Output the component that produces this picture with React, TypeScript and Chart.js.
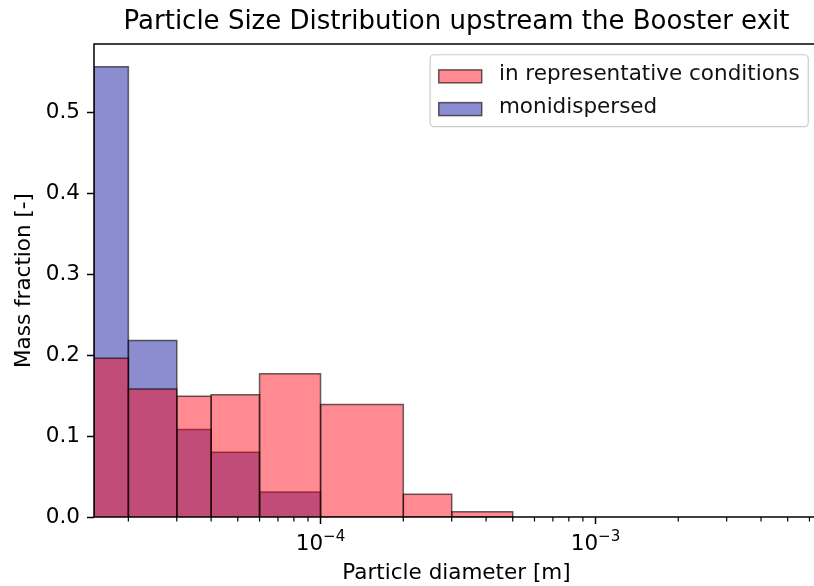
import { useEffect, useRef } from 'react';
import { Chart, registerables } from 'chart.js';

Chart.register(...registerables);

// ---- data ----
const BIN_EDGES = [1.5e-5, 2e-5, 3e-5, 4e-5, 6e-5, 1e-4, 2e-4, 3e-4, 5e-4];
const REPRESENTATIVE = [0.196, 0.158, 0.149, 0.151, 0.177, 0.139, 0.028, 0.0065];
const MONODISPERSED = [0.556, 0.218, 0.108, 0.08, 0.031, 0, 0, 0];
const SERIES_LABELS = ['in representative conditions', 'monidispersed'];

const X_MIN = 1.5e-5;
const X_MAX = 6.5e-3;
const Y_MIN = 0;
const Y_MAX = 0.584;

const X_MAJOR_TICKS = [1e-4, 1e-3];
const X_TICK_BASE = ['10', '10'];
const X_TICK_EXP = ['\u22124', '\u22123'];
const X_MINOR_TICKS = [
  2e-5, 3e-5, 4e-5, 5e-5, 6e-5, 7e-5, 8e-5, 9e-5,
  2e-4, 3e-4, 4e-4, 5e-4, 6e-4, 7e-4, 8e-4, 9e-4,
  2e-3, 3e-3, 4e-3, 5e-3, 6e-3,
];
const Y_TICKS = [0, 0.1, 0.2, 0.3, 0.4, 0.5];
const Y_TICK_LABELS = ['0.0', '0.1', '0.2', '0.3', '0.4', '0.5'];

const TITLE = 'Particle Size Distribution upstream the Booster exit';
const X_TITLE = 'Particle diameter [m]';
const Y_TITLE = 'Mass fraction [-]';

// ---- styles ----
const FONT = 'DejaVu Sans';
const FS = 21.5;
const RED_FILL = 'rgba(255,0,15,0.46)';
const BLUE_FILL = 'rgba(0,0,150,0.45)';
const EDGE = 'rgba(0,0,0,0.6)';

function barDatasets(values: number[], fill: string, order: number, label: string) {
  return values.map((v, i) => ({
    label,
    data: [
      { x: BIN_EDGES[i], y: 0 },
      { x: BIN_EDGES[i], y: v },
      { x: BIN_EDGES[i + 1], y: v },
      { x: BIN_EDGES[i + 1], y: 0 },
    ],
    backgroundColor: fill,
    borderColor: EDGE,
    borderWidth: 1.5,
    borderJoinStyle: 'miter' as const,
    fill: 'origin',
    pointRadius: 0,
    pointHoverRadius: 0,
    tension: 0,
    order,
  }));
}

const decorPlugin = {
  id: 'decor',
  afterDraw(chart: any) {
    const { ctx, chartArea: ca } = chart;
    const xs = chart.scales.x;
    ctx.save();
    // minor ticks
    ctx.strokeStyle = '#000';
    ctx.lineWidth = 1.2;
    X_MINOR_TICKS.forEach((v) => {
      if (v <= X_MIN || v >= X_MAX) return;
      const x = xs.getPixelForValue(v);
      ctx.beginPath();
      ctx.moveTo(x, ca.bottom);
      ctx.lineTo(x, ca.bottom + 4.5);
      ctx.stroke();
    });
    // major x tick labels with superscript
    ctx.fillStyle = '#000';
    ctx.textBaseline = 'alphabetic';
    ctx.textAlign = 'left';
    X_MAJOR_TICKS.forEach((v, i) => {
      const x = xs.getPixelForValue(v);
      ctx.font = `${FS}px "${FONT}"`;
      const wb = ctx.measureText(X_TICK_BASE[i]).width;
      ctx.font = `${FS * 0.7}px "${FONT}"`;
      const we = ctx.measureText(X_TICK_EXP[i]).width;
      const start = x - (wb + we) / 2;
      ctx.font = `${FS}px "${FONT}"`;
      ctx.fillText(X_TICK_BASE[i], start, ca.bottom + 33);
      ctx.font = `${FS * 0.7}px "${FONT}"`;
      ctx.fillText(X_TICK_EXP[i], start + wb, ca.bottom + 23.5);
    });
    // frame
    ctx.strokeStyle = '#000';
    ctx.lineWidth = 1.5;
    ctx.strokeRect(ca.left, ca.top, ca.right - ca.left, ca.bottom - ca.top);

    // legend
    const f = FS;
    ctx.font = `${f}px "${FONT}"`;
    const textW = Math.max(...SERIES_LABELS.map((s) => ctx.measureText(s).width));
    const pad = 0.4 * f;
    const handleL = 2 * f;
    const handleGap = 0.8 * f;
    const rowH = 22;
    const spacing = 0.5 * f;
    const boxR = ca.right - 0.5 * f;
    const boxT = ca.top + 0.5 * f;
    const boxW = pad + handleL + handleGap + textW + pad;
    const boxH = pad * 2 + rowH * 2 + spacing;
    const boxL = boxR - boxW;
    ctx.beginPath();
    if (ctx.roundRect) ctx.roundRect(boxL, boxT, boxW, boxH, 4);
    else ctx.rect(boxL, boxT, boxW, boxH);
    ctx.fillStyle = 'rgba(255,255,255,0.8)';
    ctx.fill();
    ctx.strokeStyle = '#cccccc';
    ctx.lineWidth = 1.2;
    ctx.stroke();
    const fills = [RED_FILL, BLUE_FILL];
    SERIES_LABELS.forEach((s, i) => {
      const cy = boxT + pad + rowH / 2 + i * (rowH + spacing);
      const ph = 13;
      ctx.fillStyle = fills[i];
      ctx.fillRect(boxL + pad, cy - ph / 2 + 2, handleL, ph);
      ctx.strokeStyle = EDGE;
      ctx.lineWidth = 1.5;
      ctx.strokeRect(boxL + pad, cy - ph / 2 + 2, handleL, ph);
      ctx.fillStyle = '#111';
      ctx.textBaseline = 'middle';
      ctx.textAlign = 'left';
      ctx.fillText(s, boxL + pad + handleL + handleGap, cy);
    });
    ctx.restore();
  },
};

export default function App() {
  const ref = useRef<HTMLCanvasElement | null>(null);

  useEffect(() => {
    if (!ref.current) return;
    Chart.defaults.font.family = FONT;
    Chart.defaults.color = '#000';
    const datasets = [
      ...barDatasets(REPRESENTATIVE, RED_FILL, 1, SERIES_LABELS[0]),
      ...barDatasets(MONODISPERSED, BLUE_FILL, 2, SERIES_LABELS[1]),
    ];
    const chart = new Chart(ref.current, {
      type: 'line',
      data: { datasets: datasets as any },
      options: {
        animation: false,
        responsive: false,
        devicePixelRatio: 1,
        layout: { padding: { left: 0, right: 11, top: 0, bottom: 0 } },
        plugins: {
          legend: { display: false },
          tooltip: { enabled: false },
          title: {
            display: true,
            text: TITLE,
            fullSize: false,
            color: '#000',
            font: { size: 26, family: FONT, weight: 'normal' },
            padding: { top: 6.4, bottom: 6.4 },
          },
        },
        scales: {
          x: {
            type: 'logarithmic',
            min: X_MIN,
            max: X_MAX,
            border: { display: false },
            grid: {
              drawOnChartArea: false,
              drawTicks: true,
              tickLength: 7,
              tickWidth: 1.5,
              tickColor: '#000',
            },
            ticks: { display: false },
            afterBuildTicks: (s: any) => {
              s.ticks = X_MAJOR_TICKS.map((v) => ({ value: v, major: true }));
            },
            afterFit: (s: any) => {
              s.height = 69;
            },
            title: {
              display: true,
              text: X_TITLE,
              color: '#000',
              font: { size: FS, family: FONT },
              padding: { top: 0, bottom: 0 },
            },
          },
          y: {
            type: 'linear',
            min: Y_MIN,
            max: Y_MAX,
            border: { display: false },
            grid: {
              drawOnChartArea: false,
              drawTicks: true,
              tickLength: 7,
              tickWidth: 1.5,
              tickColor: '#000',
            },
            afterBuildTicks: (s: any) => {
              s.ticks = Y_TICKS.map((v) => ({ value: v }));
            },
            ticks: {
              padding: 7,
              color: '#000',
              font: { size: FS, family: FONT },
              callback: (v: any) => {
                const idx = Y_TICKS.findIndex((t) => Math.abs(t - Number(v)) < 1e-9);
                return idx >= 0 ? Y_TICK_LABELS[idx] : '';
              },
            },
            afterFit: (s: any) => {
              s.width = 94;
            },
            title: {
              display: true,
              text: Y_TITLE,
              color: '#000',
              font: { size: FS, family: FONT },
              padding: { top: 11.7, bottom: 0 },
            },
          },
        },
      },
      plugins: [decorPlugin],
    });
    return () => chart.destroy();
  }, []);

  return (
    <div
      style={{
        position: 'fixed',
        left: 0,
        top: 0,
        width: 814,
        height: 586,
        overflow: 'hidden',
        background: '#fff',
      }}
    >
      <canvas ref={ref} width={830} height={586} style={{ display: 'block' }} />
    </div>
  );
}
